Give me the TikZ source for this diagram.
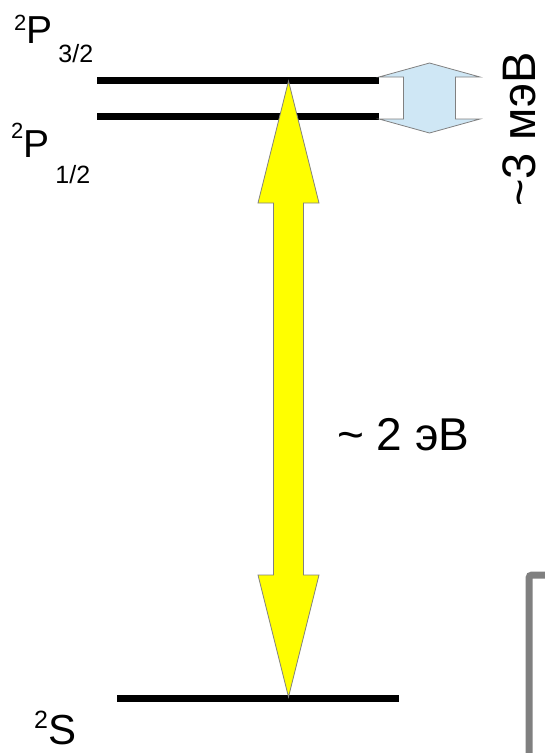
\documentclass[tikz,border=0pt]{standalone}
\usepackage{fontspec}
\setmainfont{Liberation Sans}
\usepackage{tikz}
\usetikzlibrary{calc}
\definecolor{mYellow}{HTML}{FFFF00}
\definecolor{mBlue}{HTML}{CFE7F5}
\definecolor{mGray}{HTML}{808080}
\newcommand{\supnum}[2][13pt]{\raisebox{#1}{\fontsize{22}{22}\selectfont #2}}
\newcommand{\subnum}[2][19pt]{\hspace{6pt}\raisebox{-#1}{\fontsize{25}{25}\selectfont #2}}

\begin{document}
\begin{tikzpicture}[x=1pt, y=-1pt,
    level/.style={line width=7pt, black},
    blockarrow/.style={draw=mGray, line width=0.8pt, line join=miter},
    lbl/.style={inner sep=0pt, font=\fontsize{39}{44}\selectfont}]
    \useasboundingbox (0,0) rectangle (544,753);
    \foreach \n/\xa/\xb/\y in {p32/97/379/80.5, p12/97/379/116.5, s/117/399/698} {
      \coordinate (\n-w) at (\xa,\y);
      \coordinate (\n-e) at (\xb,\y);
      \draw[level] (\n-w) -- (\n-e);
    }
    \coordinate (up) at (288.5,81);
    \coordinate (dn) at (288.5,697);
    \draw[blockarrow, fill=mYellow] (up) -- ++(30.5,122) -- ++(-15.5,0)
      -- ($(dn)+(15,-122)$) -- ++(15.5,0) -- (dn) -- ++(-30.5,-122) -- ++(15.5,0)
      -- ($(up)+(-15,122)$) -- ++(-15.5,0) -- cycle;
    \coordinate (up2) at (429.5,63);
    \coordinate (dn2) at (429.5,133);
    \draw[blockarrow, fill=mBlue] (up2) -- ++(50.5,14) -- ++(-24.5,0)
      -- ($(dn2)+(26,-14)$) -- ++(24.5,0) -- (dn2) -- ++(-50.5,-14) -- ++(24.5,0)
      -- ($(up2)+(-26,14)$) -- ++(-24.5,0) -- cycle;
    \draw[mGray, line width=7pt, rounded corners=3pt] (529,775) -- (529,575) -- (565,575);
    \node[lbl, anchor=base west] (p32-lbl) at (14,43) {\supnum{2}P\subnum{3/2}};
    \node[lbl, anchor=base west] (p12-lbl) at (11,157) {\supnum[19pt]{2}P\subnum[26pt]{1/2}};
    \node[lbl, anchor=base west, font=\fontsize{42}{48}\selectfont] (s-lbl) at (34,744)
      {\raisebox{16pt}{\fontsize{25}{25}\selectfont 2}S};
    \node[lbl, anchor=base west, font=\fontsize{46}{50}\selectfont] (ev) at (337,450) {\textasciitilde{} 2 эВ};
    \node[lbl, anchor=base west, rotate=90, font=\fontsize{47}{52}\selectfont] (mev) at (535,207) {\textasciitilde3 мэВ};
\end{tikzpicture}
\end{document}
